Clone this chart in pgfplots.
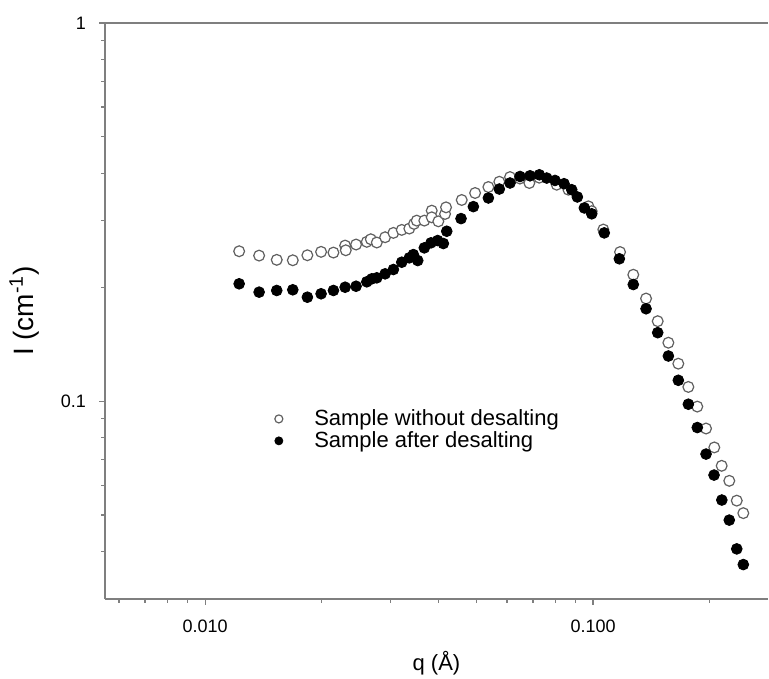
\documentclass[border=0pt]{standalone}
\usepackage{fontspec}
\setmainfont{Liberation Sans}
\usepackage{pgfplots}
\pgfplotsset{compat=1.18}
\definecolor{axgray}{HTML}{7F7F7F}
\definecolor{mkgray}{HTML}{606060}
\begin{document}
\begin{tikzpicture}
\begin{axis}[
  scale only axis,
  width=331.5pt, height=288pt,
  xmode=log, ymode=log,
  xmin=0.00552, xmax=0.2825,
  ymin=0.03, ymax=1,
  axis x line=box, axis y line=left,
  axis line style={-, draw=axgray, line width=0.6pt},
  xtick pos=lower, ytick pos=left,
  tick align=outside,
  major tick length=3pt, minor tick length=2pt,
  every tick/.style={draw=axgray, line width=0.6pt},
  xtick={0.01,0.1}, xticklabels={0.010,0.100},
  minor xtick={0.006,0.007,0.008,0.009,0.02,0.03,0.04,0.05,0.06,0.07,0.08,0.09,0.2},
  ytick={0.1,1}, yticklabels={0.1,1},
  minor ytick={0.04,0.05,0.06,0.07,0.08,0.09,0.2,0.3,0.4,0.5,0.6,0.7,0.8,0.9},
  ticklabel style={font=\fontsize{9}{10}\selectfont},
  xticklabel style={yshift=-4pt},
  yticklabel style={xshift=-3pt},
  xlabel={q (Å)},
  ylabel={I (cm\textsuperscript{-1})},
  xlabel style={font=\fontsize{11}{13}\selectfont, at={(axis description cs:0.5,0)}, yshift=-22.5pt},
  ylabel style={font=\fontsize{14}{16}\selectfont, yshift=4pt},
  legend style={at={(rel axis cs:0.255,0.335)}, anchor=north west, draw=none, fill=none,
    font=\fontsize{11}{12}\selectfont, row sep=-1.5pt, inner sep=0pt,
    nodes={inner sep=1.5pt}},
  legend cell align=left,
  legend image code/.code={\draw[#1, mark size=2pt] plot coordinates {(0pt,0pt)}; \path (-2pt,0pt) (16pt,0pt);},
]
\addplot[only marks, mark=*, mark size=2.7pt, mark options={draw=mkgray, fill=white, line width=0.6pt}] coordinates {
(0.01224,0.2492) (0.01378,0.2427) (0.01530,0.2365) (0.01683,0.2359) (0.01835,0.2432)
(0.01991,0.2483) (0.02142,0.2472) (0.02296,0.2580) (0.02305,0.2507) (0.02450,0.2596)
(0.02611,0.2639) (0.02674,0.2681) (0.02771,0.2628) (0.02911,0.2714) (0.03058,0.2787)
(0.03213,0.2838) (0.03361,0.2861) (0.03456,0.2944) (0.03512,0.3003) (0.03674,0.3003)
(0.03839,0.3191) (0.03839,0.3064) (0.03993,0.2990) (0.04155,0.3127) (0.04179,0.3256)
(0.04587,0.3405) (0.04966,0.3553) (0.05373,0.3685) (0.05734,0.3805) (0.06110,0.3915)
(0.06480,0.3880) (0.06852,0.3776) (0.07270,0.3900) (0.08060,0.3737) (0.08640,0.3625)
(0.09730,0.3276) (0.09920,0.3180) (0.1063,0.2844) (0.1174,0.2480) (0.1270,0.2160)
(0.1370,0.1869) (0.1468,0.1628) (0.1564,0.1428) (0.1659,0.1257) (0.1761,0.1091)
(0.1857,0.0968) (0.1956,0.0847) (0.2054,0.0755) (0.2146,0.0675) (0.2245,0.0616)
(0.2347,0.0546) (0.2440,0.0506)
};
\addlegendentry{Sample without desalting}
\addplot[only marks, mark=*, mark size=2.7pt, mark options={draw=black, fill=black}] coordinates {
(0.01224,0.2044) (0.01378,0.1943) (0.01530,0.1963) (0.01683,0.1971) (0.01835,0.1884)
(0.01991,0.1924) (0.02142,0.1963) (0.02296,0.2002) (0.02450,0.2014) (0.02611,0.2069)
(0.02690,0.2107) (0.02771,0.2120) (0.02911,0.2172) (0.03058,0.2230) (0.03213,0.2331)
(0.03361,0.2394) (0.03442,0.2442) (0.03533,0.2355) (0.03674,0.2544) (0.03823,0.2623)
(0.03978,0.2660) (0.04113,0.2612) (0.04197,0.2815) (0.04568,0.3040) (0.04915,0.3270)
(0.05373,0.3447) (0.05734,0.3640) (0.06110,0.3776) (0.06484,0.3929) (0.06880,0.3946)
(0.07271,0.3970) (0.07598,0.3892) (0.07982,0.3835) (0.08420,0.3760) (0.08812,0.3625)
(0.09111,0.3468) (0.09497,0.3244) (0.09923,0.3130) (0.1069,0.2787) (0.1169,0.2380)
(0.1270,0.2035) (0.1370,0.1756) (0.1468,0.1518) (0.1564,0.1317) (0.1659,0.1136)
(0.1761,0.0982) (0.1857,0.0852) (0.1956,0.0725) (0.2051,0.0638) (0.2148,0.0548)
(0.2245,0.0485) (0.2347,0.0407) (0.2440,0.0370)
};
\addlegendentry{Sample after desalting}
\end{axis}
\pgfresetboundingbox
\path[use as bounding box] ([xshift=-52.5pt,yshift=-39.5pt]current axis.south west) rectangle ([xshift=0.5pt,yshift=11.5pt]current axis.north east);
\end{tikzpicture}
\end{document}
